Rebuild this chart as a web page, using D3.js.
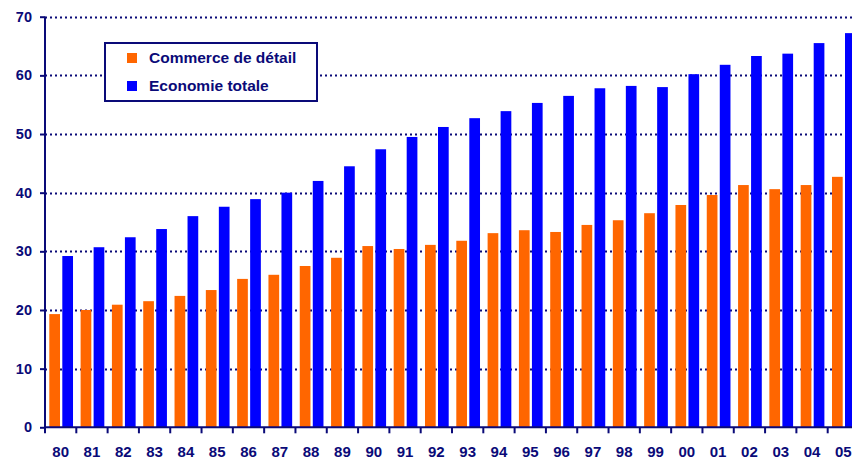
<!DOCTYPE html>
<html>
<head>
<meta charset="utf-8">
<script src="https://cdn.jsdelivr.net/npm/d3@7"></script>
<style>
  html, body { margin: 0; padding: 0; background: #fff; }
  svg { display: block; }
  text { font-family: "Liberation Sans", Arial, sans-serif; font-weight: bold; fill: #0a0a78; }
</style>
</head>
<body>
<div id="chart"></div>
<script>
const categories = ["80","81","82","83","84","85","86","87","88","89","90","91","92","93","94","95","96","97","98","99","00","01","02","03","04","05"];
const seriesNames = ["Commerce de détail", "Economie totale"];
const commerce = [19.3, 20.0, 20.9, 21.5, 22.4, 23.4, 25.3, 26.0, 27.5, 28.9, 30.9, 30.4, 31.1, 31.8, 33.1, 33.6, 33.3, 34.5, 35.3, 36.5, 37.9, 39.6, 41.3, 40.6, 41.3, 42.7];
const economie = [29.2, 30.7, 32.4, 33.8, 36.0, 37.6, 38.9, 40.0, 42.0, 44.5, 47.4, 49.5, 51.2, 52.7, 53.9, 55.3, 56.5, 57.8, 58.2, 58.0, 60.2, 61.8, 63.3, 63.7, 65.5, 67.2];
const yTicks = [0, 10, 20, 30, 40, 50, 60, 70];
const colors = ["#FF6600", "#0000FF"];

const W = 852, H = 460;
const navy = "#0a0a78";
const svg = d3.select("#chart").append("svg").attr("width", W).attr("height", H);

const x = d3.scaleBand().domain(categories).range([45, 859]).padding(0);
const xSub = d3.scaleBand().domain(seriesNames).range([0, x.bandwidth()])
  .paddingInner(0.177).paddingOuter(0.292).align(0.566);
const y = d3.scaleLinear().domain([0, 70]).range([427.3, 16.7]);

// gridlines
svg.append("g").selectAll("line").data(yTicks.filter(d => d > 0)).join("line")
  .attr("x1", 45).attr("x2", W)
  .attr("y1", d => Math.round(y(d)) + 0.5).attr("y2", d => Math.round(y(d)) + 0.5)
  .attr("stroke", navy).attr("stroke-width", 2).attr("stroke-dasharray", "2,3");

// bars
const data = categories.map((c, i) => ({ c, vals: [commerce[i], economie[i]] }));
const g = svg.append("g");
data.forEach(d => {
  d.vals.forEach((v, j) => {
    g.append("rect")
      .attr("x", x(d.c) + xSub(seriesNames[j]))
      .attr("width", xSub.bandwidth())
      .attr("y", y(v))
      .attr("height", y(0) - y(v))
      .attr("fill", colors[j]);
  });
});

// y axis
const yAxis = svg.append("g").attr("transform", "translate(45,0)")
  .call(d3.axisLeft(y).tickValues(yTicks).tickSize(5).tickPadding(8).tickFormat(d3.format("d")));
yAxis.select(".domain").attr("stroke", navy).attr("stroke-width", 2).attr("d", `M0,${y(0)}V${y(70)}`);
yAxis.selectAll(".tick line").attr("stroke", navy).attr("stroke-width", 2);
yAxis.selectAll("text").style("font-size", "14.5px").attr("fill", navy);

// x axis
const xAxis = svg.append("g").attr("transform", `translate(0,${y(0)})`)
  .call(d3.axisBottom(x).tickSize(0).tickPadding(19));
xAxis.select(".domain").attr("stroke", navy).attr("stroke-width", 2).attr("d", `M45,0H${W}`);
xAxis.selectAll("text").style("font-size", "15px").attr("fill", navy);
xAxis.append("g").selectAll("line").data(categories).join("line")
  .attr("x1", d => x(d)).attr("x2", d => x(d))
  .attr("y1", 0).attr("y2", 6)
  .attr("stroke", navy).attr("stroke-width", 2);

// legend
const leg = svg.append("g");
leg.append("rect").attr("x", 105).attr("y", 43).attr("width", 212).attr("height", 58)
  .attr("fill", "#fff").attr("stroke", navy).attr("stroke-width", 2);
seriesNames.forEach((n, i) => {
  const ly = 58 + i * 28;
  leg.append("rect").attr("x", 127).attr("y", ly - 5).attr("width", 10).attr("height", 10).attr("fill", colors[i]);
  leg.append("text").attr("x", 149).attr("y", ly + 5).style("font-size", "15.5px").attr("fill", navy).text(n);
});
</script>
</body>
</html>
